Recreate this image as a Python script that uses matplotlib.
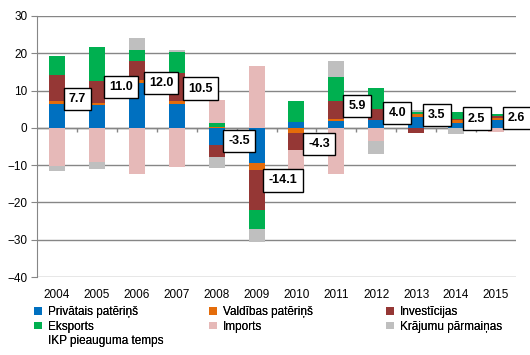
import matplotlib.pyplot as plt
import numpy as np

plt.rcParams['font.family'] = ['Liberation Sans', 'DejaVu Sans']

years = ['2004', '2005', '2006', '2007', '2008', '2009',
         '2010', '2011', '2012', '2013', '2014', '2015']

# contributions to GDP growth, percentage points
privatais = [6.5, 6.2, 11.9, 6.5, -4.7, -9.4, 1.6, 1.9, 2.0, 3.0, 1.4, 2.0]
valdibas = [0.8, 0.5, 1.0, 0.8, 0.3, -2.0, -1.5, 0.6, 0.0, 0.7, 0.7, 0.6]
investicijas = [6.9, 5.9, 4.9, 7.5, -3.2, -10.6, -4.4, 4.7, 3.0, -1.5, 0.2, 0.6]
eksports = [5.1, 9.1, 3.2, 5.6, 1.1, -5.0, 5.6, 6.5, 5.6, 0.5, 1.9, 0.5]
imports = [-10.2, -9.2, -12.3, -10.4, 6.2, 16.6, -5.7, -12.3, -3.5, 0.0, 0.0, -1.2]
krajumi = [-1.5, -1.8, 3.2, 0.5, -2.9, -3.7, 0.0, 4.3, -3.4, 0.6, -1.7, 0.0]
ikp = [7.7, 11.0, 12.0, 10.5, -3.5, -14.1, -4.3, 5.9, 4.0, 3.5, 2.5, 2.6]

series = [
    ('Privātais patēriņš', privatais, '#0070C0'),
    ('Valdības patēriņš', valdibas, '#E46C0A'),
    ('Investīcijas', investicijas, '#953735'),
    ('Eksports', eksports, '#00B050'),
    ('Imports', imports, '#E6B9B8'),
    ('Krājumu pārmaiņas', krajumi, '#BFBFBF'),
]

fig = plt.figure(figsize=(5.3, 3.55), dpi=100)
ax = fig.add_axes([37 / 530, 78 / 355, 479 / 530, 261 / 355])

x = np.arange(len(years))
pos_base = np.zeros(len(years))
neg_base = np.zeros(len(years))
bars = {}
for name, vals, col in series:
    v = np.array(vals)
    base = np.where(v >= 0, pos_base, neg_base)
    bars[name] = ax.bar(x, v, 0.4, bottom=base, color=col, label=name, zorder=3)
    pos_base = pos_base + np.where(v > 0, v, 0)
    neg_base = neg_base + np.where(v < 0, v, 0)

# GDP growth shown only as labels
gdp_line, = ax.plot(x, ikp, linestyle='none', label='IKP pieauguma temps')
for xi, val in zip(x, ikp):
    ax.text(xi + 0.3, val, f'{val:.1f}', ha='left', va='center',
            fontsize=9, fontweight='bold', zorder=5,
            bbox=dict(boxstyle='square,pad=0.42', fc='white', ec='black', lw=1))

ax.set_xlim(-0.5, len(years) - 0.5)
ax.set_ylim(-40, 30)
ax.set_yticks(np.arange(-40, 31, 10))
ax.yaxis.grid(True, color='#868686', lw=1, zorder=0)
ax.set_axisbelow(True)

for s in ['top', 'right', 'bottom']:
    ax.spines[s].set_visible(False)
ax.spines['left'].set_color('#868686')
ax.tick_params(axis='y', length=4, color='#868686', labelsize=8.5, pad=3)

# category axis at zero
ax.axhline(0, color='#868686', lw=1, zorder=2)
ax.vlines(np.arange(0.5, len(years) - 0.5, 1), -1.1, 0, color='#868686', lw=1, zorder=2)
ax.set_xticks(x)
ax.set_xticklabels(years)
ax.tick_params(axis='x', length=0, labelsize=8.5, pad=9)

# legend in three columns
cols = [
    ['Privātais patēriņš', 'Eksports', None],
    ['Valdības patēriņš', 'Imports'],
    ['Investīcijas', 'Krājumu pārmaiņas'],
]
xs = [34, 209, 386]
for cx, names in zip(xs, cols):
    hs, ls = [], []
    for n in names:
        if n is None:
            hs.append(gdp_line)
            ls.append('IKP pieauguma temps')
        else:
            hs.append(bars[n])
            ls.append(n)
    leg = fig.legend(hs, ls, loc='upper left', bbox_to_anchor=(cx / 530, 1 - 306 / 355),
                     frameon=False, fontsize=8.5, handlelength=0.65, handleheight=0.65,
                     handletextpad=0.5, labelspacing=0.22, borderpad=0, borderaxespad=0)
    fig.add_artist(leg)

fig.savefig('out.png', dpi=100)
